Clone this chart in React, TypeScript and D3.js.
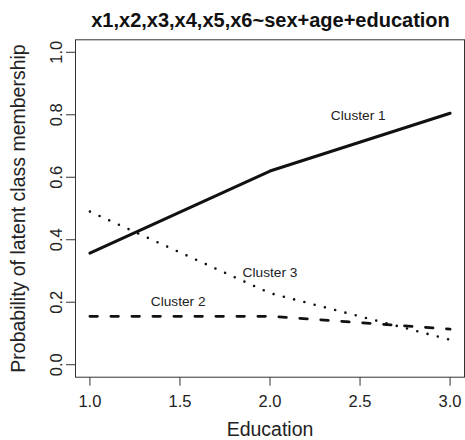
import * as d3 from "d3";

const education = [1, 2, 3];
const cluster1 = [0.357, 0.62, 0.805];
const cluster2 = [0.155, 0.155, 0.114];
const cluster3 = [0.49, 0.229, 0.08];

const xTicks = [1.0, 1.5, 2.0, 2.5, 3.0];
const yTicks = [0.0, 0.2, 0.4, 0.6, 0.8, 1.0];

const labels = [
  { text: "Cluster 1", x: 2.49, y: 0.783 },
  { text: "Cluster 2", x: 1.49, y: 0.188 },
  { text: "Cluster 3", x: 2.0, y: 0.28 },
];

const font = "'Liberation Sans', Arial, Helvetica, sans-serif";

export default function App() {
  const svgWidth = 465,
    svgHeight = 440;
  const box = { left: 75.5, right: 464.5, top: 39.8, bottom: 377.2 };

  const x = d3.scaleLinear().domain([0.92, 3.08]).range([box.left, box.right]);
  const y = d3.scaleLinear().domain([-0.04, 1.04]).range([box.bottom, box.top]);

  const line = d3
    .line<number>()
    .x((d, i) => x(education[i]))
    .y((d) => y(d));

  const series = [
    { values: cluster1, dash: undefined, width: 3 },
    { values: cluster2, dash: "7.5 13.5", width: 2.8 },
    { values: cluster3, dash: "0 10.6", width: 2.6 },
  ];

  return (
    <svg
      width={svgWidth}
      height={svgHeight}
      style={{ position: "absolute", left: 0, top: 0 }}
      fontFamily={font}
    >
      <rect width={svgWidth} height={svgHeight} fill="white" />
      <text
        x={270.5}
        y={27}
        textAnchor="middle"
        fontWeight="bold"
        fontSize={20}
        fill="#111"
      >
        x1,x2,x3,x4,x5,x6~sex+age+education
      </text>

      {series.map((s, i) => (
        <path
          key={i}
          d={line(s.values) || ""}
          fill="none"
          stroke="#111"
          strokeWidth={s.width}
          strokeDasharray={s.dash}
          strokeLinecap="round"
          strokeLinejoin="round"
        />
      ))}

      {labels.map((l) => (
        <text
          key={l.text}
          x={x(l.x)}
          y={y(l.y)}
          textAnchor="middle"
          fontSize={13.7}
          fill="#222"
        >
          {l.text}
        </text>
      ))}

      <rect
        x={box.left}
        y={box.top}
        width={box.right - box.left}
        height={box.bottom - box.top}
        fill="none"
        stroke="#333"
        strokeWidth={1}
      />

      {/* x axis */}
      <g>
        {xTicks.map((t) => (
          <g key={t}>
            <line
              x1={x(t)}
              x2={x(t)}
              y1={box.bottom}
              y2={box.bottom + 8.5}
              stroke="#333"
            />
            <text
              x={x(t)}
              y={406.5}
              textAnchor="middle"
              fontSize={16.5}
              fill="#222"
            >
              {t.toFixed(1)}
            </text>
          </g>
        ))}
        <text
          x={(box.left + box.right) / 2}
          y={436}
          textAnchor="middle"
          fontSize={19.5}
          fill="#222"
        >
          Education
        </text>
      </g>

      {/* y axis */}
      <g>
        {yTicks.map((t) => (
          <g key={t}>
            <line
              x1={box.left - 9.5}
              x2={box.left}
              y1={y(t)}
              y2={y(t)}
              stroke="#333"
            />
            <text
              transform={`translate(61.5,${y(t)}) rotate(-90)`}
              textAnchor="middle"
              fontSize={16.5}
              fill="#222"
            >
              {t.toFixed(1)}
            </text>
          </g>
        ))}
        <text
          transform={`translate(25,${(box.top + box.bottom) / 2}) rotate(-90)`}
          textAnchor="middle"
          fontSize={19.5}
          fill="#222"
        >
          Probability of latent class membership
        </text>
      </g>
    </svg>
  );
}
